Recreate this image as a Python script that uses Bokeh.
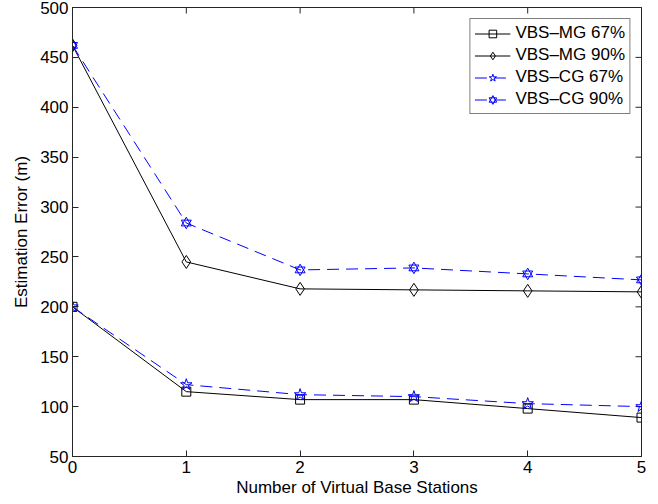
import math
from bokeh.plotting import figure
from bokeh.models import Range1d, Legend, LegendItem, FixedTicker
from bokeh.embed import file_html
from bokeh.resources import INLINE

x_vals = [0, 1, 2, 3, 4, 5]
mg67 = [200, 115, 107, 107, 98, 89]
mg90 = [462, 245, 218, 217, 216, 215]
cg67 = [200, 122, 112, 110, 103, 100]
cg90 = [462, 284, 237, 239, 233, 227]
y_ticks = [50, 100, 150, 200, 250, 300, 350, 400, 450, 500]
x_ticks = [0, 1, 2, 3, 4, 5]
x_lo, x_hi = 0, 5
y_lo, y_hi = 50, 500

FONT = "Liberation Sans"
BLUE = "#0000ff"
AX = "#262626"

p = figure(width=656, height=500, output_backend="svg", toolbar_location=None,
           x_range=Range1d(x_lo, x_hi), y_range=Range1d(y_lo, y_hi),
           min_border_left=72, min_border_right=15, min_border_top=7, min_border_bottom=44)
p.xgrid.visible = False
p.ygrid.visible = False
p.outline_line_color = AX
p.outline_line_width = 1

for ax in (p.xaxis[0], p.yaxis[0]):
    ax.major_tick_in = 6
    ax.major_tick_out = 0
    ax.minor_tick_line_color = None
    ax.axis_line_color = AX
    ax.major_tick_line_color = AX
    ax.major_label_text_font = FONT
    ax.major_label_text_font_size = "17px"
    ax.major_label_text_color = "black"
    ax.axis_label_text_font = FONT
    ax.axis_label_text_font_size = "17px"
    ax.axis_label_text_font_style = "normal"
    ax.axis_label_text_color = "black"

p.xaxis.ticker = FixedTicker(ticks=x_ticks)
p.yaxis.ticker = FixedTicker(ticks=y_ticks)
p.xaxis.axis_label = "Number of Virtual Base Stations"
p.yaxis.axis_label = "Estimation Error (m)"
p.xaxis.major_label_standoff = 4
p.xaxis.axis_label_standoff = 2
p.yaxis.major_label_standoff = 4
p.yaxis.axis_label_standoff = 6

# inward ticks on the top and right edges of the box (clipped to the frame)
p.scatter(x_ticks, [y_hi] * len(x_ticks), marker="dash", angle=math.pi / 2, size=12,
          line_color=AX, line_width=1)
p.scatter([x_hi] * len(y_ticks), y_ticks, marker="dash", size=12,
          line_color=AX, line_width=1)

DASH = "12 7"
# VBS-MG 67%
l1 = p.line(x_vals, mg67, line_color="black", line_width=1)
m1 = p.scatter(x_vals, mg67, marker="square", size=9, fill_color=None, line_color="black")
# VBS-MG 90%
l2 = p.line(x_vals, mg90, line_color="black", line_width=1)
m2 = p.scatter(x_vals, mg90, marker="diamond", size=13, fill_color=None, line_color="black")
# VBS-CG 67%
l3 = p.line(x_vals, cg67, line_color=BLUE, line_width=1, line_dash=DASH)
m3 = p.scatter(x_vals, cg67, marker="star", size=12, fill_color=None, line_color=BLUE)
# VBS-CG 90% (hexagram)
l4 = p.line(x_vals, cg90, line_color=BLUE, line_width=1, line_dash=DASH)
m4a = p.scatter(x_vals, cg90, marker="triangle", size=10, fill_color=None, line_color=BLUE)
m4b = p.scatter(x_vals, cg90, marker="inverted_triangle", size=10, fill_color=None, line_color=BLUE)

legend = Legend(items=[
    LegendItem(label="VBS\u2013MG 67%", renderers=[l1, m1]),
    LegendItem(label="VBS\u2013MG 90%", renderers=[l2, m2]),
    LegendItem(label="VBS\u2013CG 67%", renderers=[l3, m3]),
    LegendItem(label="VBS\u2013CG 90%", renderers=[l4, m4a, m4b]),
], location="top_right")
legend.label_text_font = FONT
legend.label_text_font_size = "17px"
legend.label_text_color = "black"
legend.border_line_color = "black"
legend.border_line_width = 1
legend.glyph_width = 36
legend.glyph_height = 19
legend.label_height = 19
legend.spacing = 2
legend.padding = 4
legend.margin = 11
legend.label_standoff = 5
p.add_layout(legend)

open("out.html", "w").write(file_html(p, INLINE))
